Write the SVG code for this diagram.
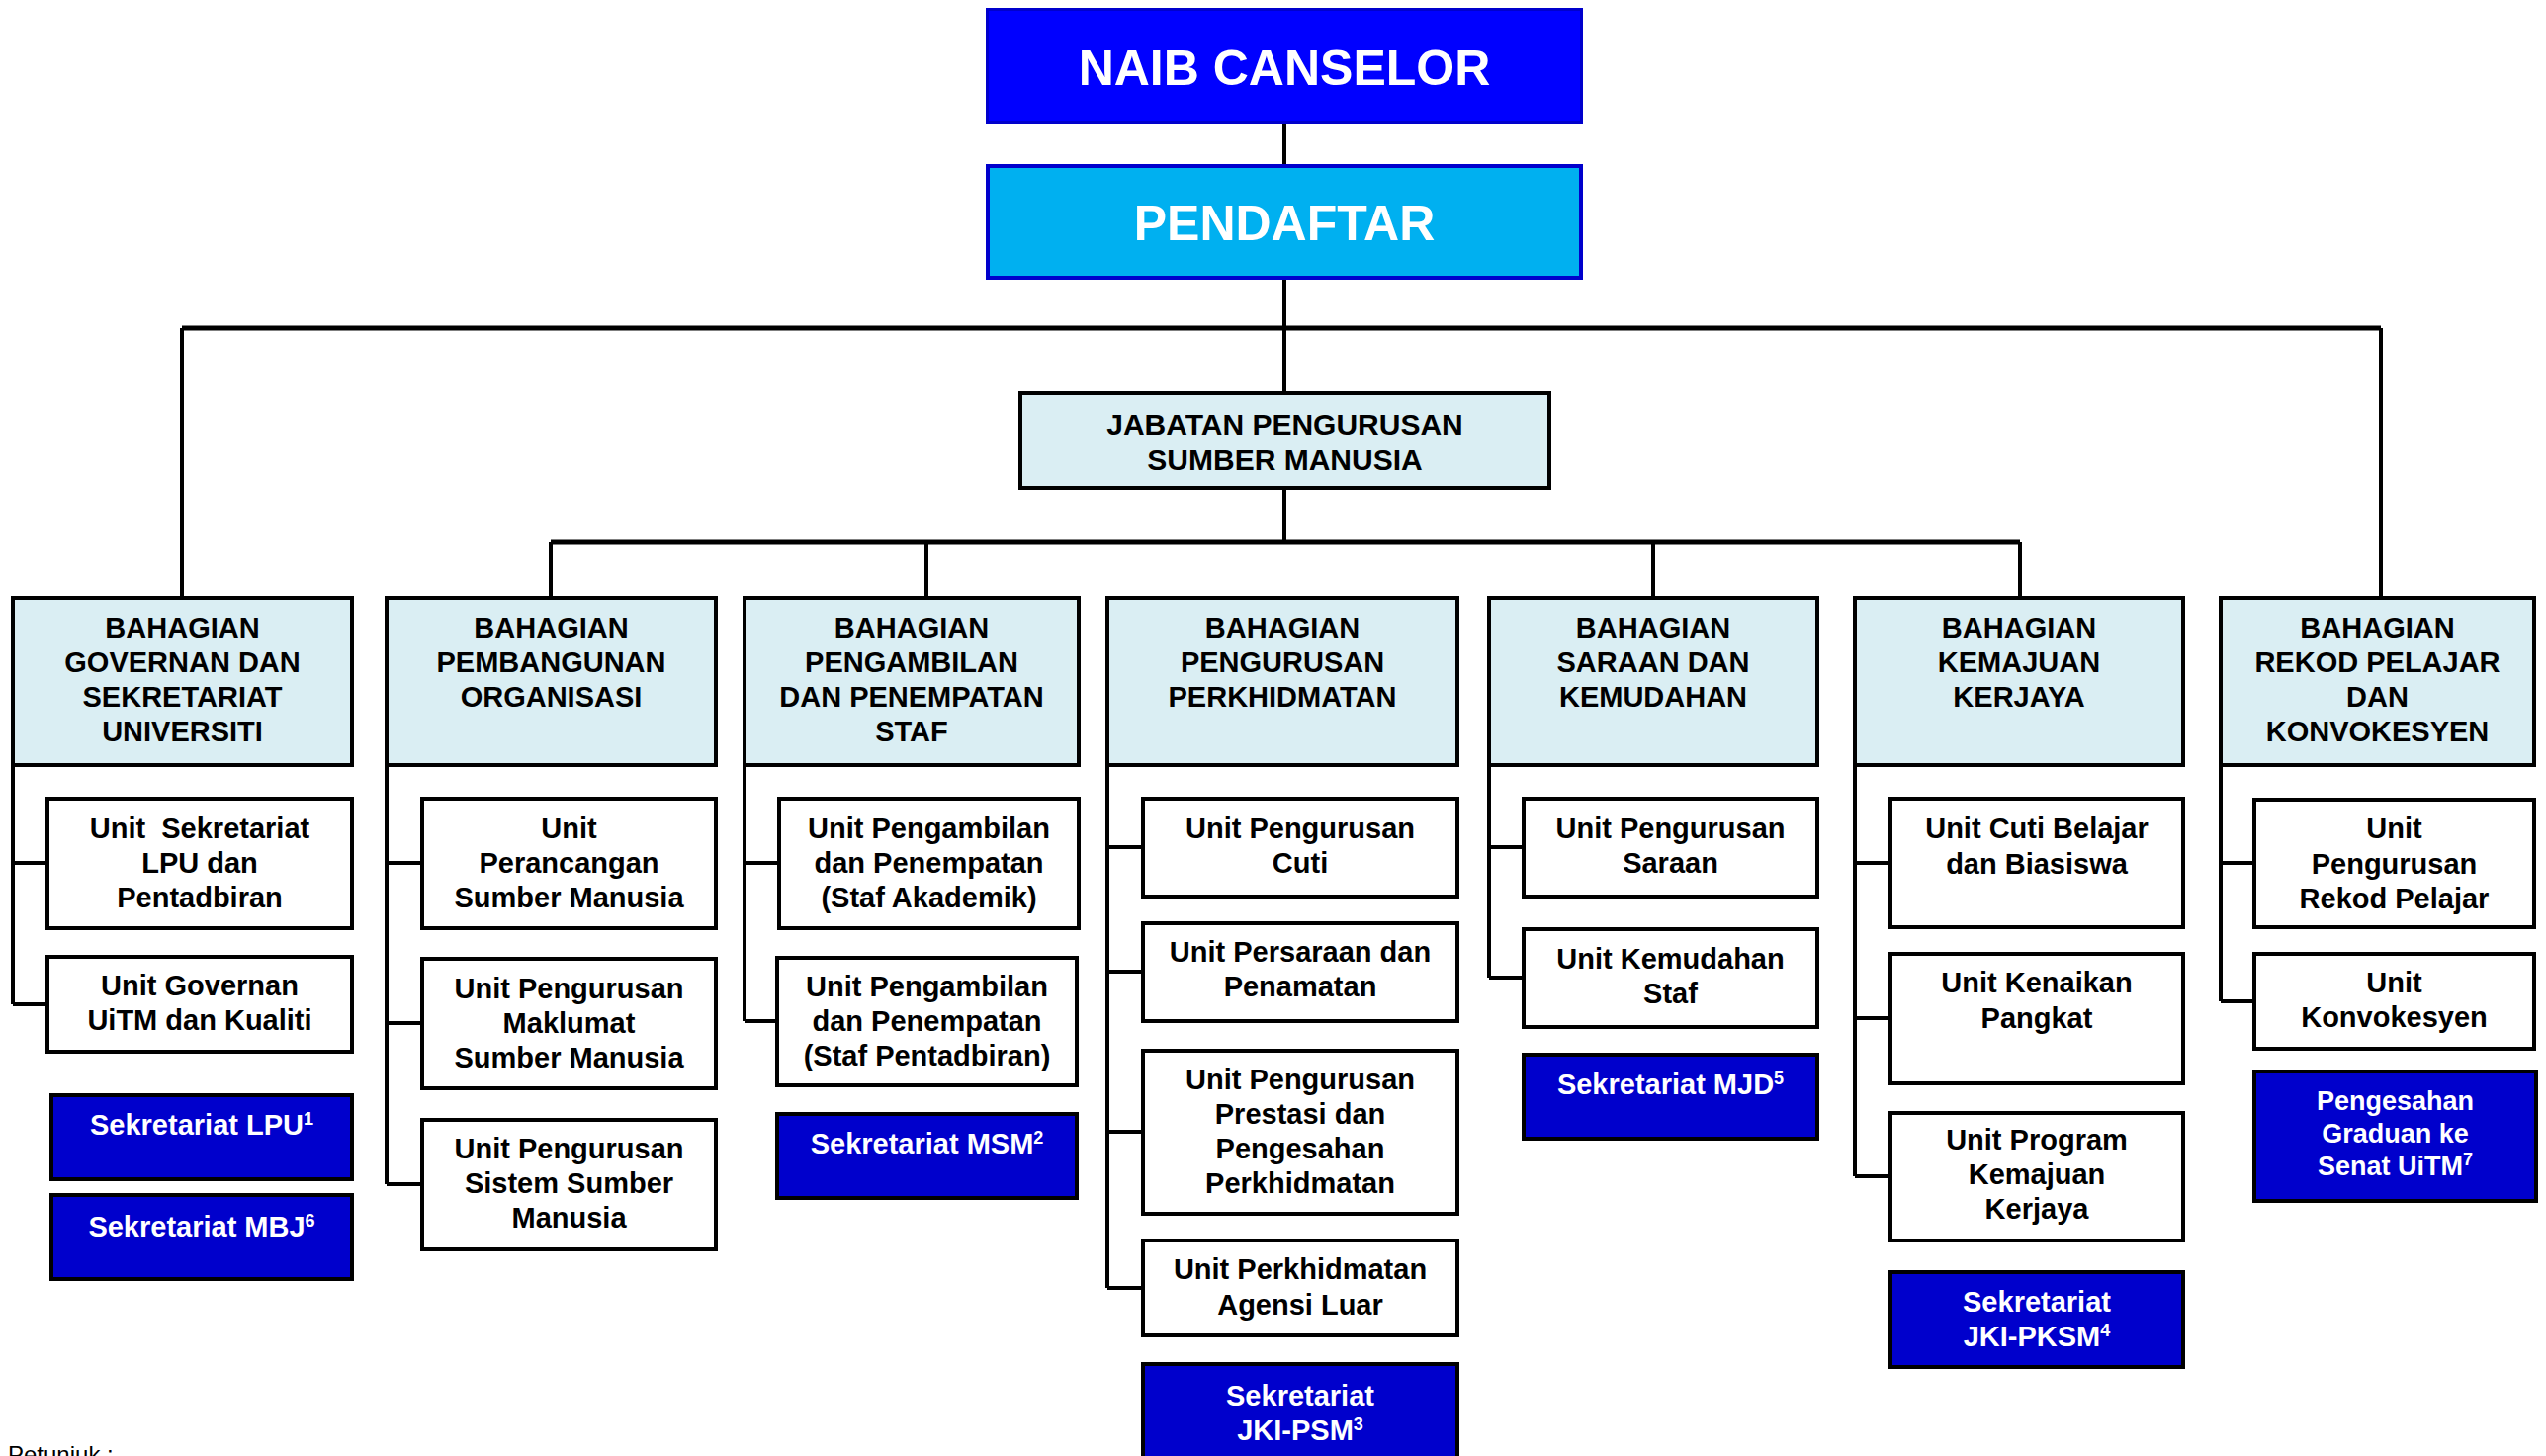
<svg xmlns="http://www.w3.org/2000/svg" width="2575" height="1473" viewBox="0 0 2575 1473">
<style>
text{font-family:"Liberation Sans",Arial,Helvetica,sans-serif;font-weight:bold;text-anchor:middle}
.top{font-size:50px;fill:#fff}
.dept rect{fill:#DAEEF3;stroke:#000;stroke-width:4}
.dept text{font-size:29px;fill:#000}
.unit rect{fill:#fff;stroke:#000;stroke-width:4}
.unit text{font-size:29px;fill:#000}
.sek rect{fill:#0000CC;stroke:#000;stroke-width:4}
.sek text{font-size:29px;fill:#fff}
.sup{font-size:18px}
.conn{fill:none;stroke:#000;stroke-width:4}
.bus{fill:none;stroke:#000;stroke-width:5}
.note{font-weight:normal;text-anchor:start;font-size:24px;fill:#000}
</style>
<rect width="2575" height="1473" fill="#fff"/>

<g id="connectors">
<path class="conn" d="M1299 125V166M1299 283V396M1299 496V548"/>
<path class="bus" d="M184 332H2408M557 548H2043"/>
<path class="conn" d="M184 332V603M2408 332V603M557 548V603M937 548V603M1672 548V603M2043 548V603"/>
<path class="conn" d="M13 776V1016M13 873H46M13 1016H46"/>
<path class="conn" d="M391 776V1198M391 873H425M391 1035H425M391 1198H425"/>
<path class="conn" d="M753 776V1033M753 873H786M753 1033H784"/>
<path class="conn" d="M1120 776V1303M1120 857H1154M1120 983H1154M1120 1145H1154M1120 1303H1154"/>
<path class="conn" d="M1506 776V989M1506 857H1539M1506 989H1539"/>
<path class="conn" d="M1876 776V1190M1876 873H1910M1876 1030H1910M1876 1190H1910"/>
<path class="conn" d="M2246 776V1013M2246 873H2278M2246 1013H2278"/>
</g>

<g id="naib-canselor">
<rect x="998.5" y="9.5" width="601" height="114" fill="#0000FF" stroke="#0000CC" stroke-width="3"/>
<text class="top" x="1299" y="86">NAIB CANSELOR</text>
</g>
<g id="pendaftar">
<rect x="999" y="168" width="600" height="113" fill="#00B0F0" stroke="#0000CC" stroke-width="4"/>
<text class="top" x="1299" y="243">PENDAFTAR</text>
</g>
<g id="jabatan" class="dept">
<rect x="1032" y="398" width="535" height="96"/>
<text x="1299.5" y="440" style="font-size:30px">JABATAN PENGURUSAN</text>
<text x="1299.5" y="475" style="font-size:30px">SUMBER MANUSIA</text>
</g>

<g id="bahagian-governan" class="dept">
<rect x="13" y="605" width="343" height="169"/>
<text x="184.5" y="645">BAHAGIAN</text>
<text x="184.5" y="680">GOVERNAN DAN</text>
<text x="184.5" y="715">SEKRETARIAT</text>
<text x="184.5" y="750">UNIVERSITI</text>
</g>
<g id="bahagian-pembangunan" class="dept">
<rect x="391" y="605" width="333" height="169"/>
<text x="557.5" y="645">BAHAGIAN</text>
<text x="557.5" y="680">PEMBANGUNAN</text>
<text x="557.5" y="715">ORGANISASI</text>
</g>
<g id="bahagian-pengambilan" class="dept">
<rect x="753" y="605" width="338" height="169"/>
<text x="922" y="645">BAHAGIAN</text>
<text x="922" y="680">PENGAMBILAN</text>
<text x="922" y="715">DAN PENEMPATAN</text>
<text x="922" y="750">STAF</text>
</g>
<g id="bahagian-perkhidmatan" class="dept">
<rect x="1120" y="605" width="354" height="169"/>
<text x="1297" y="645">BAHAGIAN</text>
<text x="1297" y="680">PENGURUSAN</text>
<text x="1297" y="715">PERKHIDMATAN</text>
</g>
<g id="bahagian-saraan" class="dept">
<rect x="1506" y="605" width="332" height="169"/>
<text x="1672" y="645">BAHAGIAN</text>
<text x="1672" y="680">SARAAN DAN</text>
<text x="1672" y="715">KEMUDAHAN</text>
</g>
<g id="bahagian-kemajuan" class="dept">
<rect x="1876" y="605" width="332" height="169"/>
<text x="2042" y="645">BAHAGIAN</text>
<text x="2042" y="680">KEMAJUAN</text>
<text x="2042" y="715">KERJAYA</text>
</g>
<g id="bahagian-rekod" class="dept">
<rect x="2246" y="605" width="317" height="169"/>
<text x="2404.5" y="645">BAHAGIAN</text>
<text x="2404.5" y="680">REKOD PELAJAR</text>
<text x="2404.5" y="715">DAN</text>
<text x="2404.5" y="750">KONVOKESYEN</text>
</g>

<g id="unit-sekretariat-lpu" class="unit">
<rect x="48" y="808" width="308" height="131"/>
<text x="202" y="848" style="white-space:pre">Unit  Sekretariat</text>
<text x="202" y="883">LPU dan</text>
<text x="202" y="918">Pentadbiran</text>
</g>
<g id="unit-governan" class="unit">
<rect x="48" y="968" width="308" height="96"/>
<text x="202" y="1007">Unit Governan</text>
<text x="202" y="1042">UiTM dan Kualiti</text>
</g>
<g id="sekretariat-lpu" class="sek">
<rect x="52" y="1108" width="304" height="85"/>
<text x="204" y="1148">Sekretariat LPU<tspan class="sup" dy="-10">1</tspan></text>
</g>
<g id="sekretariat-mbj" class="sek">
<rect x="52" y="1209" width="304" height="85"/>
<text x="204" y="1251">Sekretariat MBJ<tspan class="sup" dy="-10">6</tspan></text>
</g>

<g id="unit-perancangan" class="unit">
<rect x="427" y="808" width="297" height="131"/>
<text x="575.5" y="848">Unit</text>
<text x="575.5" y="883">Perancangan</text>
<text x="575.5" y="918">Sumber Manusia</text>
</g>
<g id="unit-maklumat" class="unit">
<rect x="427" y="970" width="297" height="131"/>
<text x="575.5" y="1010">Unit Pengurusan</text>
<text x="575.5" y="1045">Maklumat</text>
<text x="575.5" y="1080">Sumber Manusia</text>
</g>
<g id="unit-sistem" class="unit">
<rect x="427" y="1133" width="297" height="131"/>
<text x="575.5" y="1172">Unit Pengurusan</text>
<text x="575.5" y="1207">Sistem Sumber</text>
<text x="575.5" y="1242">Manusia</text>
</g>

<g id="unit-pengambilan-akademik" class="unit">
<rect x="788" y="808" width="303" height="131"/>
<text x="939.5" y="848">Unit Pengambilan</text>
<text x="939.5" y="883">dan Penempatan</text>
<text x="939.5" y="918">(Staf Akademik)</text>
</g>
<g id="unit-pengambilan-pentadbiran" class="unit">
<rect x="786" y="969" width="303" height="129"/>
<text x="937.5" y="1008">Unit Pengambilan</text>
<text x="937.5" y="1043">dan Penempatan</text>
<text x="937.5" y="1078">(Staf Pentadbiran)</text>
</g>
<g id="sekretariat-msm" class="sek">
<rect x="786" y="1127" width="303" height="85"/>
<text x="937.5" y="1167">Sekretariat MSM<tspan class="sup" dy="-10">2</tspan></text>
</g>

<g id="unit-cuti" class="unit">
<rect x="1156" y="808" width="318" height="99"/>
<text x="1315" y="848">Unit Pengurusan</text>
<text x="1315" y="883">Cuti</text>
</g>
<g id="unit-persaraan" class="unit">
<rect x="1156" y="934" width="318" height="99"/>
<text x="1315" y="973">Unit Persaraan dan</text>
<text x="1315" y="1008">Penamatan</text>
</g>
<g id="unit-prestasi" class="unit">
<rect x="1156" y="1063" width="318" height="165"/>
<text x="1315" y="1102">Unit Pengurusan</text>
<text x="1315" y="1137">Prestasi dan</text>
<text x="1315" y="1172">Pengesahan</text>
<text x="1315" y="1207">Perkhidmatan</text>
</g>
<g id="unit-agensi-luar" class="unit">
<rect x="1156" y="1255" width="318" height="96"/>
<text x="1315" y="1294">Unit Perkhidmatan</text>
<text x="1315" y="1330">Agensi Luar</text>
</g>
<g id="sekretariat-jki-psm" class="sek">
<rect x="1156" y="1380" width="318" height="110"/>
<text x="1315" y="1422">Sekretariat</text>
<text x="1315" y="1457">JKI-PSM<tspan class="sup" dy="-10">3</tspan></text>
</g>

<g id="unit-saraan" class="unit">
<rect x="1541" y="808" width="297" height="99"/>
<text x="1689.5" y="848">Unit Pengurusan</text>
<text x="1689.5" y="883">Saraan</text>
</g>
<g id="unit-kemudahan" class="unit">
<rect x="1541" y="940" width="297" height="99"/>
<text x="1689.5" y="980">Unit Kemudahan</text>
<text x="1689.5" y="1015">Staf</text>
</g>
<g id="sekretariat-mjd" class="sek">
<rect x="1541" y="1067" width="297" height="85"/>
<text x="1689.5" y="1107">Sekretariat MJD<tspan class="sup" dy="-10">5</tspan></text>
</g>

<g id="unit-cuti-belajar" class="unit">
<rect x="1912" y="808" width="296" height="130"/>
<text x="2060" y="848">Unit Cuti Belajar</text>
<text x="2060" y="884">dan Biasiswa</text>
</g>
<g id="unit-kenaikan" class="unit">
<rect x="1912" y="965" width="296" height="131"/>
<text x="2060" y="1004">Unit Kenaikan</text>
<text x="2060" y="1040">Pangkat</text>
</g>
<g id="unit-program-kemajuan" class="unit">
<rect x="1912" y="1126" width="296" height="129"/>
<text x="2060" y="1163">Unit Program</text>
<text x="2060" y="1198">Kemajuan</text>
<text x="2060" y="1233">Kerjaya</text>
</g>
<g id="sekretariat-jki-pksm" class="sek">
<rect x="1912" y="1287" width="296" height="96"/>
<text x="2060" y="1327">Sekretariat</text>
<text x="2060" y="1362">JKI-PKSM<tspan class="sup" dy="-10">4</tspan></text>
</g>

<g id="unit-rekod-pelajar" class="unit">
<rect x="2280" y="809" width="283" height="129"/>
<text x="2421.5" y="848">Unit</text>
<text x="2421.5" y="884">Pengurusan</text>
<text x="2421.5" y="919">Rekod Pelajar</text>
</g>
<g id="unit-konvokesyen" class="unit">
<rect x="2280" y="965" width="283" height="96"/>
<text x="2421.5" y="1004">Unit</text>
<text x="2421.5" y="1039">Konvokesyen</text>
</g>
<g id="pengesahan-graduan" class="sek">
<rect x="2280" y="1084" width="285" height="131"/>
<text x="2422.5" y="1123" style="font-size:27px">Pengesahan</text>
<text x="2422.5" y="1156" style="font-size:27px">Graduan ke</text>
<text x="2422.5" y="1189" style="font-size:27px">Senat UiTM<tspan class="sup" dy="-10">7</tspan></text>
</g>

<text class="note" x="8" y="1480">Petunjuk :</text>
</svg>
